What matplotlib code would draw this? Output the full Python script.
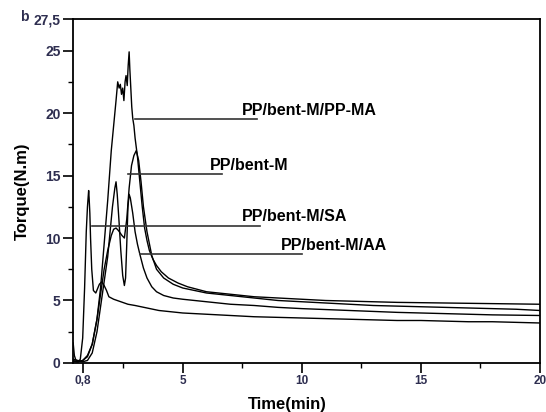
import numpy as np
import matplotlib
matplotlib.use("Agg")
from matplotlib import pyplot as plt

plt.rcParams['font.family'] = ['Liberation Sans', 'DejaVu Sans']

# torque curves: time (min), torque (N.m)
t_sa = [0.40, 0.45, 0.50, 0.55, 0.62, 0.70, 0.80, 0.88, 0.95, 1.00, 1.05, 1.07, 1.10, 1.13, 1.18,
        1.25, 1.35, 1.50, 1.60, 1.70, 1.80, 1.90, 2.10, 2.40, 2.70, 3.00, 3.50, 4.00, 5.00,
        6.00, 7.00, 8.00, 9.00, 10.0, 11.0, 12.0, 13.0, 14.0, 15.0, 16.0, 17.0, 18.0, 19.0, 20.0]
tq_sa = [1.6, 0.6, 0.3, 0.1, 0.1, 0.3, 2.0, 6.0, 10.5, 12.5, 13.8, 13.2, 12.0, 10.0, 7.5,
         5.8, 5.6, 6.3, 6.5, 6.2, 5.8, 5.3, 5.1, 4.9, 4.7, 4.6, 4.4, 4.2, 4.0,
         3.9, 3.8, 3.7, 3.65, 3.6, 3.55, 3.5, 3.45, 3.4, 3.4, 3.35, 3.3, 3.3, 3.25, 3.2]

t_m = [0.40, 0.60, 0.80, 1.00, 1.20, 1.40, 1.55, 1.70, 1.85, 2.00, 2.10, 2.20, 2.30, 2.45, 2.55,
       2.65, 2.75, 2.85, 2.95, 3.05, 3.15, 3.25, 3.35, 3.50, 3.70, 3.90, 4.20, 4.60, 5.00,
       6.00, 7.00, 8.00, 9.00, 10.0, 11.0, 12.0, 13.0, 14.0, 15.0, 16.0, 17.0, 18.0, 19.0, 20.0]
tq_m = [0.2, 0.1, 0.2, 0.5, 1.5, 3.5, 5.5, 7.5, 9.0, 10.2, 10.7, 10.8, 10.6, 10.2, 10.0,
        11.5, 14.0, 15.8, 16.6, 17.0, 16.2, 14.5, 12.5, 10.5, 8.6, 7.5, 6.8, 6.3, 6.0,
        5.6, 5.4, 5.2, 5.0, 4.9, 4.8, 4.7, 4.6, 4.55, 4.5, 4.45, 4.4, 4.35, 4.3, 4.2]

t_aa = [0.40, 0.60, 0.80, 1.00, 1.20, 1.40, 1.55, 1.70, 1.85, 1.95, 2.05, 2.15, 2.20, 2.25, 2.32,
        2.40, 2.48, 2.55, 2.60, 2.65, 2.70, 2.75, 2.80, 2.90, 3.00, 3.10, 3.20, 3.35, 3.50,
        3.70, 3.90, 4.20, 4.60, 5.00, 6.00, 7.00, 8.00, 9.00, 10.0, 12.0, 14.0, 16.0, 18.0, 20.0]
tq_aa = [0.3, 0.2, 0.1, 0.2, 0.8, 2.5, 4.5, 6.5, 8.5, 10.5, 12.5, 14.0, 14.5, 13.5, 11.5,
         9.0, 7.0, 6.2, 6.8, 9.5, 12.5, 13.5, 13.2, 12.0, 10.5, 9.5, 8.7, 7.6, 6.8,
         6.1, 5.7, 5.4, 5.2, 5.1, 4.9, 4.7, 4.6, 4.45, 4.35, 4.2, 4.05, 3.95, 3.85, 3.8]

t_ma = [0.40, 0.60, 0.80, 1.00, 1.20, 1.40, 1.55, 1.70, 1.85, 2.00, 2.10, 2.20, 2.27, 2.33, 2.38,
        2.43, 2.48, 2.53, 2.58, 2.62, 2.67, 2.71, 2.75, 2.78, 2.82, 2.86, 2.90, 2.95, 3.00,
        3.10, 3.20, 3.30, 3.40, 3.50, 3.60, 3.75, 3.90, 4.10, 4.40, 4.80, 5.20, 6.00, 7.00,
        8.00, 9.00, 10.0, 11.0, 12.0, 14.0, 16.0, 18.0, 20.0]
tq_ma = [0.1, 0.1, 0.2, 0.6, 1.5, 3.5, 6.0, 9.5, 13.0, 17.0, 19.0, 21.0, 22.5, 22.0, 22.3,
         21.5, 22.0, 21.0, 22.5, 23.0, 22.2, 23.8, 24.9, 23.5, 22.0, 20.5, 19.6, 19.0, 18.0,
         16.5, 14.5, 12.5, 10.8, 9.8, 9.0, 8.3, 7.8, 7.3, 6.8, 6.4, 6.1, 5.7, 5.5,
         5.3, 5.2, 5.1, 5.0, 4.95, 4.85, 4.8, 4.75, 4.7]

labels = ['PP/bent-M/PP-MA', 'PP/bent-M', 'PP/bent-M/SA', 'PP/bent-M/AA']
# label line start (time, torque), line end time, text start time
label_y = [19.5, 15.1, 11.0, 8.7]
line_start = [3.0, 2.7, 1.2, 3.2]
line_end = [8.1, 6.65, 8.25, 10.0]
text_x = [7.5, 6.15, 7.5, 9.1]

tick_col = '#2e2e50'

fig = plt.figure(figsize=(5.46, 4.12), dpi=100)
ax = fig.add_axes([0.134, 0.119, 0.855, 0.834])

for t, tq in [(t_sa, tq_sa), (t_m, tq_m), (t_aa, tq_aa), (t_ma, tq_ma)]:
    ax.plot(t, tq, color='black', lw=1.0)

for lab, y, x0, x1, xt in zip(labels, label_y, line_start, line_end, text_x):
    ax.plot([x0, x1], [y, y], color='#333333', lw=1.2)
    ax.text(xt, y + 0.1, lab, fontsize=11.5, fontweight='bold', ha='left', va='bottom')

ax.set_xlim(0.4, 20)
ax.set_ylim(0, 27.5)
ax.set_xticks([0.8, 5, 10, 15, 20])
ax.set_xticklabels(['0,8', '5', '10', '15', '20'])
ax.set_xticks([2.5, 7.5, 12.5, 17.5], minor=True)
ax.set_yticks([0, 5, 10, 15, 20, 25, 27.5])
ax.set_yticklabels(['0', '5', '10', '15', '20', '25', '27,5'])
ax.set_yticks([2.5, 7.5, 12.5, 17.5, 22.5], minor=True)

ax.tick_params(which='major', direction='out', length=7, width=1.2,
               labelcolor=tick_col, pad=2)
ax.tick_params(which='minor', direction='out', length=3.5, width=1.0)
ax.tick_params(axis='x', labelsize=8.5)
ax.tick_params(axis='y', labelsize=10)
for lbl in ax.get_xticklabels() + ax.get_yticklabels():
    lbl.set_fontweight('bold')
for s in ax.spines.values():
    s.set_linewidth(1.3)

ax.set_xlabel('Time(min)', fontsize=12, fontweight='bold')
ax.xaxis.set_label_coords(0.458, -0.098)
ax.set_ylabel('Torque(N.m)', fontsize=12, fontweight='bold')
ax.yaxis.set_label_coords(-0.093, 0.50)

fig.text(0.037, 0.959, 'b', fontsize=10, fontweight='bold', color=tick_col,
         ha='left', va='center')

fig.savefig('out.png', dpi=100)
